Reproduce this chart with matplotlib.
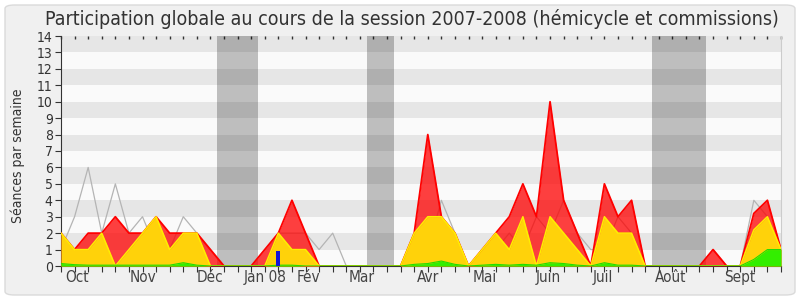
import matplotlib
matplotlib.use("Agg")
import matplotlib.pyplot as plt
from matplotlib.patches import FancyBboxPatch
import numpy as np

plt.rcParams['font.family'] = ['DejaVu Sans']
plt.rcParams['font.stretch'] = 'condensed'

# weekly values, session 2007-2008 (54 weeks, starting late September)
total = [2, 1, 2, 2, 3, 2, 2, 3, 2, 2, 2, 1, 0, 0, 0, 1, 2, 4, 2, 0,
         0, 0, 0, 0, 0, 0, 2, 8, 3, 2, 0, 1, 2, 3, 5, 3, 10, 4, 2, 0,
         5, 3, 4, 0, 0, 0, 0, 0, 1, 0, 0, 3.2, 4, 1]
hemicycle = [2, 1, 1, 2, 0, 1, 2, 3, 1, 2, 2, 0, 0, 0, 0, 0, 2, 1, 1, 0,
             0, 0, 0, 0, 0, 0, 2, 3, 3, 2, 0, 1, 2, 1, 3, 0, 3, 2, 1, 0,
             3, 2, 2, 0, 0, 0, 0, 0, 0, 0, 0, 2.2, 3, 1]
commission = [0.15, 0.08, 0.05, 0.05, 0.05, 0.05, 0.05, 0.05, 0.05, 0.2, 0.05, 0, 0, 0, 0, 0, 0.05, 0.05, 0, 0,
              0, 0, 0, 0, 0, 0, 0.1, 0.15, 0.3, 0.1, 0, 0.05, 0.1, 0.05, 0.1, 0.05, 0.2, 0.15, 0.05, 0,
              0.2, 0.05, 0.05, 0, 0, 0, 0, 0, 0, 0, 0, 0.4, 1, 1]
mediane = [1, 3, 6, 2, 5, 2, 3, 1, 1, 3, 2, 1, 0, 0, 0, 1, 2, 2, 2, 1,
           2, 0, 0, 0, 0, 0, 2, 1, 4, 2, 0, 1, 1, 2, 1, 3, 2, 4, 2, 1,
           1, 3, 2, 0, 0, 0, 0, 0, 1, 0, 0, 4, 3, 1]
questions_week = [16]
questions = [0.9]
vacances = [(11.5, 14.5), (22.5, 24.5), (43.5, 47.5)]
mois = ['Oct', 'Nov', 'Déc', 'Jan 08', 'Fév', 'Mar', 'Avr', 'Mai', 'Juin', 'Juil', 'Août', 'Sept']
mois_pos = [1.15, 6.0, 11.0, 15.0, 18.2, 22.15, 27.0, 31.2, 35.9, 39.9, 44.9, 50.0]

weeks = np.arange(len(total))

fig = plt.figure(figsize=(8, 3), dpi=100)
fig.patch.set_facecolor('white')
fig.patches.append(FancyBboxPatch((5 / 800, 5 / 300), 790 / 800, 290 / 300,
                                  boxstyle="round,pad=0,rounding_size=0.012",
                                  transform=fig.transFigure, facecolor='#f0f0f0',
                                  edgecolor='#dadada', linewidth=1, zorder=-10))

ax = fig.add_axes([61 / 800, 34 / 300, 720 / 800, 230 / 300])
ax.set_facecolor('#fafafa')
for k in range(1, 14, 2):
    ax.axhspan(k, k + 1, color='#e6e6e6', lw=0, zorder=0)
for a, b in vacances:
    ax.axvspan(a, b, color='black', alpha=0.24, lw=0, zorder=1)

ax.plot(weeks, mediane, color='#b4b4b4', lw=0.9, zorder=2)
ax.fill_between(weeks, 0, total, color='#ff0000', alpha=0.75, lw=0, zorder=3)
ax.plot(weeks, total, color='#ff0000', lw=1.3, zorder=3)
ax.fill_between(weeks, 0, hemicycle, color='#ffd20a', lw=0, zorder=4)
ax.plot(weeks, hemicycle, color='#ffee00', lw=1.1, zorder=4)
ax.fill_between(weeks, 0, commission, color='#33ee00', lw=0, zorder=5)
ax.plot(weeks, commission, color='#22dd00', lw=0.8, zorder=5)
ax.bar(questions_week, questions, width=0.3, color='#1414d8', zorder=6)

ax.set_xlim(0, len(total) - 1)
ax.set_ylim(0, 14)
ax.set_yticks(range(15))
ax.set_xticks(weeks)
ax.set_xticklabels([])
ax.tick_params(axis='x', direction='out', length=4, width=0.8, color='#333333')
ax.tick_params(axis='y', direction='out', length=4, width=0.8, color='#333333',
               labelsize=10, labelcolor='#333333', pad=2)
for p, m in zip(mois_pos, mois):
    ax.text(p, -0.052, m, transform=ax.get_xaxis_transform(), ha='center', va='center',
            fontsize=11, color='#444444')

top = ax.secondary_xaxis('top')
top.set_xticks(weeks)
top.set_xticklabels([])
top.tick_params(direction='in', length=2, width=1, color='#333333')
top.spines['top'].set_visible(False)

ax.spines['top'].set_visible(False)
ax.spines['right'].set_color('#cccccc')
ax.spines['left'].set_color('#333333')
ax.spines['bottom'].set_color('#333333')

fig.text(412 / 800, 1 - 19 / 300,
         'Participation globale au cours de la session 2007-2008 (hémicycle et commissions)',
         ha='center', va='center', fontsize=14, color='#333333')
fig.text(18 / 800, 1 - 156 / 300, 'Séances par semaine', rotation=90,
         ha='center', va='center', fontsize=10, color='#333333')

fig.savefig('out.png', dpi=100, facecolor=fig.get_facecolor())
